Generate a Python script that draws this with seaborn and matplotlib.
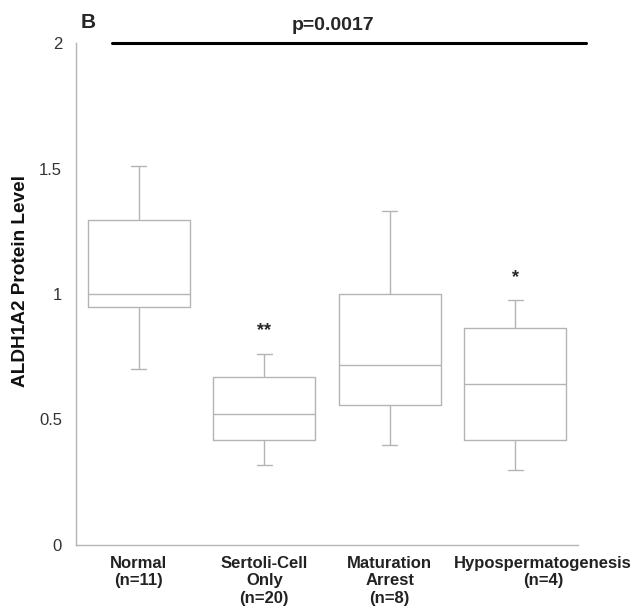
import numpy as np
import pandas as pd
import matplotlib
matplotlib.use("Agg")
import matplotlib.pyplot as plt
import matplotlib.transforms as mtransforms
import seaborn as sns

# Five-number summaries (low whisker, Q1, median, Q3, high whisker)
groups = ["Normal\n(n=11)", "Sertoli-Cell\nOnly\n(n=20)", "Maturation\nArrest\n(n=8)", "Hypospermatogenesis\n(n=4)"]
normal = [0.70, 0.95, 1.00, 1.295, 1.51]
sertoli = [0.32, 0.42, 0.523, 0.668, 0.76]
maturation = [0.40, 0.558, 0.718, 1.00, 1.33]
hypo = [0.30, 0.417, 0.641, 0.865, 0.978]

# significance marks
stars = ["", "**", "", "*"]
star_y = [None, 0.855, None, 1.065]
p_text = "p=0.0017"
p_y = 2.0

df = pd.DataFrame({
    "group": np.repeat(groups, 5),
    "level": normal + sertoli + maturation + hypo,
})

sns.set_style("white")
plt.rcParams["font.family"] = ["Liberation Sans", "DejaVu Sans"]

fig = plt.figure(figsize=(6.36, 6.12), dpi=100)
ax = fig.add_axes([0.1195, 0.1095, 0.7893, 0.8202])

grey = "#b4b4b4"
sns.boxplot(data=df, x="group", y="level", order=groups, whis=(0, 100),
            width=0.81, fill=False, color=grey, linecolor=grey, linewidth=1.0,
            capwidths=0.12, ax=ax)

ax.set_xlim(-0.5, 3.5)
ax.set_ylim(0, 2)
ax.set_yticks([0, 0.5, 1, 1.5, 2])
ax.set_yticklabels(["0", "0.5", "1", "1.5", "2"])
ax.set_xlabel("")
ax.set_ylabel("ALDH1A2 Protein Level", fontsize=13.7, fontweight="bold", color="#111111")
ax.yaxis.set_label_coords(-0.094, 0.526)

for s in ["top", "right"]:
    ax.spines[s].set_visible(False)
for s in ["left", "bottom"]:
    ax.spines[s].set_color(grey)
    ax.spines[s].set_linewidth(1.0)

ax.tick_params(axis="y", direction="in", length=6, color=grey, labelsize=12,
               labelcolor="#333333", pad=10)
ax.tick_params(axis="x", length=0, labelsize=12, pad=8)
for lab in ax.get_xticklabels():
    lab.set_fontweight("bold")
    lab.set_color("#222222")
# last category label sits a bit to the right of its box in the original
last = ax.get_xticklabels()[-1]
last.set_transform(last.get_transform() + mtransforms.ScaledTranslation(0.28, 0, fig.dpi_scale_trans))

for i, (st, y) in enumerate(zip(stars, star_y)):
    if st:
        ax.text(i, y, st, ha="center", va="center", fontsize=13, fontweight="bold")

ax.plot([-0.215, 3.56], [p_y, p_y], color="black", lw=2.2, clip_on=False)
ax.text(1.55, p_y + 0.07, p_text, ha="center", va="center", fontsize=14, fontweight="bold")
fig.text(0.138, 0.963, "B", ha="center", va="center", fontsize=15, fontweight="bold")

fig.savefig("out.png", dpi=100)
